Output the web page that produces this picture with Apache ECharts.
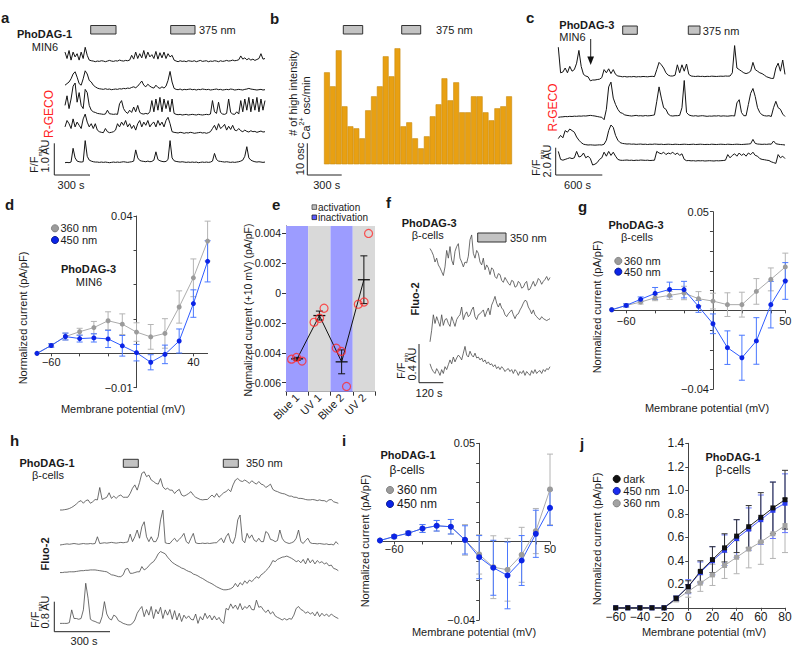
<!DOCTYPE html>
<html><head><meta charset="utf-8">
<script src="https://cdn.jsdelivr.net/npm/echarts@6/dist/echarts.min.js"></script>
<style>html,body{margin:0;padding:0;background:#fff}#c{width:800px;height:653px}</style>
</head><body><div id="c"></div>
<script>
// ---------------- DATA ----------------
// panel a: R-GECO traces (F/Fmin, AU above baseline), PhoDAG-1 MIN6
const a1 = [0.30,0.10,0.35,0.05,0.30,0.15,0.25,0.05,0.30,0.10,0.45,0.20,0.05,0.03,0.02,0.00,0.02,0.01,0.03,0.02,0.00,0.02,0.04,0.02,0.01,0.03,0.02,0.05,0.03,0.02,0.04,0.03,0.05,0.20,0.08,0.30,0.10,0.25,0.12,0.35,0.10,0.30,0.15,0.22,0.10,0.32,0.08,0.28,0.12,0.30,0.10,0.25,0.15,0.20,0.05,0.02,0.00,0.03,0.01,0.02,0.00,0.03,0.02,0.01,0.03,0.00,0.02,0.04,0.01,0.02,0.03,0.00,0.02,0.01,0.03,0.02,0.00,0.03,0.01,0.02,0.04,0.02,0.03,0.05,0.03,0.04,0.06,0.18,0.08,0.12,0.06,0.10,0.05,0.08,0.04,0.07,0.10,0.25,0.08,0.10];
const a2 = [0.15,0.20,0.25,0.35,0.50,0.57,0.40,0.20,0.15,0.35,0.60,0.50,0.30,0.25,0.15,0.10,0.06,0.04,0.03,0.02,0.04,0.02,0.03,0.01,0.02,0.03,0.02,0.04,0.03,0.05,0.04,0.06,0.05,0.08,0.10,0.07,0.12,0.20,0.28,0.15,0.10,0.18,0.12,0.08,0.06,0.15,0.08,0.05,0.10,0.06,0.12,0.30,0.58,0.25,0.05,0.02,0.01,0.03,0.00,0.02,0.01,0.02,0.03,0.01,0.02,0.00,0.02,0.01,0.03,0.02,0.01,0.02,0.00,0.01,0.02,0.03,0.01,0.02,0.00,0.01,0.02,0.01,0.03,0.02,0.00,0.01,0.02,0.01,0.00,0.02,0.03,0.05,0.03,0.02,0.01,0.00,0.01,0.02,0.00,0.01];
const a3 = [0.3,0.6,0.2,0.5,0.9,1.0,0.4,0.7,0.3,0.2,0.8,0.7,0.3,0.15,0.1,0.08,0.05,0.04,0.03,0.02,0.03,0.15,0.04,0.03,0.02,0.03,0.02,0.35,0.45,0.2,0.1,0.05,0.15,0.08,0.25,0.1,0.3,0.08,0.04,0.03,0.05,0.03,0.1,0.45,0.1,0.5,0.15,0.55,0.1,0.5,0.2,0.45,0.1,0.5,0.05,0.02,0.01,0.02,0.00,0.01,0.02,0.00,0.01,0.02,0.01,0.00,0.02,0.01,0.00,0.01,0.02,0.01,0.03,0.45,0.1,0.05,0.4,0.08,0.03,0.02,0.05,0.5,0.08,0.03,0.02,0.1,0.03,0.45,0.1,0.5,0.15,0.55,0.1,0.5,0.15,0.55,0.1,0.5,0.15,0.45];
const a4 = [0.2,0.4,0.3,0.15,0.45,0.2,0.35,0.25,0.15,0.45,0.6,0.35,0.2,0.3,0.15,0.3,0.1,0.05,0.03,0.02,0.15,0.05,0.02,0.03,0.05,0.1,0.3,0.2,0.35,0.25,0.4,0.2,0.3,0.15,0.25,0.1,0.3,0.4,0.2,0.35,0.25,0.4,0.2,0.3,0.35,0.2,0.4,0.25,0.35,0.2,0.4,0.5,0.3,0.05,0.03,0.02,0.01,0.03,0.02,0.0,0.02,0.01,0.03,0.02,0.0,0.01,0.02,0.03,0.01,0.02,0.0,0.02,0.05,0.15,0.25,0.1,0.3,0.15,0.2,0.28,0.1,0.22,0.12,0.25,0.1,0.08,0.15,0.08,0.05,0.1,0.06,0.04,0.08,0.05,0.06,0.03,0.05,0.07,0.04,0.05];
const a5 = [0.0,0.01,0.0,0.02,0.45,0.15,0.05,0.03,0.02,0.03,0.69,0.2,0.08,0.05,0.03,0.02,0.02,0.01,0.02,0.01,0.02,0.01,0.0,0.01,0.02,0.01,0.02,0.01,0.02,0.03,0.02,0.01,0.02,0.03,0.05,0.4,0.15,0.07,0.05,0.04,0.03,0.05,0.03,0.04,0.08,0.34,0.1,0.06,0.04,0.03,0.04,0.1,0.69,0.15,0.06,0.04,0.03,0.02,0.03,0.02,0.01,0.02,0.01,0.02,0.01,0.02,0.0,0.01,0.02,0.01,0.02,0.01,0.02,0.05,0.29,0.1,0.05,0.04,0.03,0.02,0.03,0.02,0.01,0.02,0.01,0.02,0.03,0.05,0.08,0.2,0.5,0.15,0.08,0.05,0.03,0.02,0.03,0.02,0.01,0.02];

// panel b: # of high intensity Ca2+ osc/min per bin
const bOsc = [46,39,57,29,19,18,13,27,34,39,54,44,58,19,21,13,8,14,24,30,43,32,41,26,26,34,34,26,22,28,29,34];

// panel c: R-GECO traces, PhoDAG-3 MIN6
const c1 = [1.8,0.2,0.25,0.5,0.2,0.6,0.3,0.4,0.8,1.6,0.6,0.1,0.0,-0.05,-0.3,-0.25,-0.25,-0.22,-0.2,-0.1,0.4,0.2,0.45,0.15,0.4,0.1,0.0,-0.02,-0.05,-0.03,-0.06,-0.04,-0.05,-0.03,-0.06,-0.04,-0.05,-0.03,-0.04,-0.05,-0.03,-0.02,-0.04,0.4,0.85,0.7,0.5,0.2,0.05,0.0,0.0,0.05,0.7,0.2,0.7,0.3,0.75,0.1,0.0,-0.02,-0.03,-0.01,-0.03,-0.02,-0.04,-0.02,-0.03,-0.01,-0.02,-0.03,-0.02,-0.01,-0.02,0.0,-0.01,0.0,0.2,1.9,0.5,0.4,0.3,0.2,0.15,0.2,0.3,0.85,0.4,0.3,0.2,0.15,0.05,-0.05,-0.1,-0.15,-0.15,0.5,0.8,0.3,1.0,0.1];
const c2 = [0.0,0.02,0.03,0.05,0.04,0.06,0.05,0.07,0.06,0.08,0.07,0.09,0.08,0.1,0.12,0.1,0.08,0.05,0.02,0.0,-0.15,0.5,1.9,2.2,1.2,0.8,0.5,0.3,0.25,0.15,0.12,0.1,0.08,0.1,0.12,0.09,0.1,0.08,0.11,0.09,0.1,0.12,0.15,1.0,1.9,1.2,0.6,0.5,0.2,0.1,0.08,0.1,0.1,0.12,0.6,2.3,0.3,0.15,0.1,0.08,0.1,0.07,0.09,0.1,0.08,0.06,0.08,0.07,0.09,0.08,0.1,0.07,0.09,0.08,0.07,0.09,0.1,0.08,0.9,1.1,0.3,0.1,0.1,0.8,1.5,1.8,1.3,0.6,0.3,0.15,0.1,0.08,0.1,0.05,0.6,1.0,0.6,0.5,0.2,0.05];
const c3 = [0.4,0.6,0.45,0.9,0.8,1.0,0.9,0.8,0.5,0.3,0.15,0.05,0.02,0.0,0.01,0.0,-0.01,0.0,0.01,0.0,0.05,0.3,0.9,1.25,1.1,0.6,0.3,0.15,0.1,0.08,0.06,0.07,0.05,0.06,0.04,0.05,0.06,0.04,0.05,0.03,0.05,0.04,0.06,0.05,0.04,0.05,0.03,0.04,0.05,0.04,0.03,0.05,0.04,0.03,0.04,0.05,0.04,0.03,0.04,0.05,0.03,0.04,0.05,0.04,0.03,0.04,0.03,0.05,0.04,0.03,0.04,0.05,0.04,0.03,0.05,0.04,0.03,0.04,0.05,0.04,0.03,0.04,0.05,0.06,0.08,0.35,0.1,0.06,0.05,0.04,0.05,0.04,0.06,0.05,0.25,0.08,0.05,0.03,0.02,0.0];
const c4 = [0.6,0.1,0.05,0.1,0.15,0.2,0.15,0.2,0.6,0.25,0.3,0.5,0.2,0.3,0.15,-0.25,-0.2,-0.1,0.1,0.2,0.55,0.3,0.6,0.35,0.55,0.3,0.1,0.05,0.04,0.05,0.06,0.04,0.05,0.03,0.05,0.04,0.06,0.05,0.04,0.05,0.03,0.04,0.05,0.6,0.5,0.45,0.55,0.4,0.5,0.45,0.55,0.4,0.5,0.35,0.45,0.1,0.02,0.03,0.01,0.02,0.0,0.02,0.01,0.02,0.0,0.01,0.02,0.01,0.0,0.02,0.01,0.02,0.03,0.05,0.4,0.2,0.35,0.45,0.3,0.5,0.35,0.45,0.3,0.5,0.4,0.55,0.35,0.3,0.15,0.1,0.08,0.05,0.03,-0.05,-0.1,-0.15,0.4,0.2,0.3,0.15];

// panel d: IV, PhoDAG-3 MIN6
const ivV = [-70,-60,-50,-40,-30,-20,-10,0,10,20,30,40,50];
const dGray = [0,0.0023,0.0049,0.0063,0.0075,0.0095,0.0085,0.0062,0.0048,0.0058,0.0135,0.0220,0.0327];
const dGrayErr = [0,0.0005,0.001,0.001,0.0018,0.0026,0.003,0.0027,0.0036,0.0043,0.0047,0.0055,0.0058];
const dBlue = [0,0.0023,0.0049,0.0043,0.0045,0.0042,0.0022,0.0002,-0.0026,-0.0003,0.0036,0.0145,0.0268];
const dBlueErr = [0,0.0005,0.001,0.001,0.0012,0.0025,0.003,0.0024,0.0022,0.0027,0.0035,0.004,0.006];

// panel e: current at +10 mV
const eCats = ['Blue 1','UV 1','Blue 2','UV 2'];
const eYTicks = [-0.006,-0.004,-0.002,0,0.002,0.004];
const eMeans = [-0.0044,-0.0015,-0.0046,0.0009];
const eErr = [0.0001,0.0003,0.0008,0.0016];
const eCells = [[-0.00442,-0.0043,-0.00455],[-0.00195,-0.00168,-0.00101],[-0.00368,-0.0039,-0.00625],[-0.00074,-0.00059,0.0040]];
const eJitter = [[-0.25,-0.03,0.22],[-0.24,0.01,0.21],[-0.24,-0.01,0.22],[-0.25,0.01,0.21]];

// panel f: Fluo-2 traces, PhoDAG-3 beta-cells
const f1 = [0.36,0.33,0.29,0.22,0.26,0.19,0.16,0.12,0.08,0.17,0.34,0.26,0.38,0.24,0.19,0.33,0.38,0.41,0.26,0.22,0.17,0.22,0.21,0.28,0.45,0.50,0.31,0.26,0.34,0.31,0.22,0.19,0.26,0.14,0.19,0.16,0.09,0.16,0.14,0.07,0.05,0.10,0.09,0.03,0.01,0.06,0.03,0.0,-0.02,0.03,0.02,-0.04,-0.03,0.02,0.0,-0.05,-0.04,0.0,0.02,-0.07,-0.06,-0.02,0.02,-0.03,0.0,0.05,0.03,-0.01,0.02,0.04,0.07,0.03,0.06];
const f2 = [-0.26,-0.14,0.02,-0.07,0,-0.05,-0.10,0.02,-0.09,-0.03,-0.02,-0.07,-0.10,0,-0.05,-0.10,-0.03,0,0.02,0.10,-0.03,0.02,0.05,0,0.02,0.07,0.10,0,-0.03,0.02,0.03,0.05,0.07,0,0.05,0.09,0.02,0.12,0.16,0.21,0.14,0.10,0.14,0.09,0.07,0.02,0,0.03,0.05,0.07,0.02,-0.02,0.02,0.03,0.07,0.10,0.14,0.17,0.16,0.10,0.07,0.03,0.07,0.02,0,-0.02,-0.03,0,-0.02,-0.03,-0.04,-0.03,-0.02];
const f3 = [0.03,-0.02,-0.05,-0.07,-0.02,-0.05,-0.09,-0.03,-0.07,0,-0.03,0.02,0.07,0.03,0.10,0.05,0.09,0.12,0.10,0.07,0.14,0.21,0.12,0.10,0.16,0.12,0.10,0.14,0.09,0.10,0.07,0.09,0.05,0.07,0.03,0.05,0.02,0.03,0,0.02,-0.02,0,-0.03,0,-0.02,-0.05,-0.03,-0.02,-0.05,-0.03,-0.07,-0.03,-0.05,-0.09,-0.05,-0.07,-0.04,-0.09,-0.05,-0.07,-0.09,-0.04,-0.07,-0.03,-0.07,-0.05,-0.04,-0.07,-0.03,-0.05,-0.02,-0.03,0];

// panel g: IV, PhoDAG-3 beta-cells
const gGray = [0.0003,0.0025,0.0042,0.0064,0.0076,0.0088,0.0059,0.0047,0.0029,0.0029,0.0096,0.0157,0.0220];
const gGrayErr = [0,0.0008,0.001,0.0015,0.002,0.0034,0.0036,0.004,0.006,0.0063,0.0065,0.0058,0.007];
const gBlue = [0.0003,0.0025,0.0056,0.0086,0.0106,0.0105,0.0020,-0.0068,-0.0189,-0.0240,-0.0155,0.0029,0.0149];
const gBlueErr = [0,0.0008,0.0012,0.003,0.0037,0.0042,0.003,0.005,0.0085,0.0114,0.0118,0.0118,0.0093];

// panel h: Fluo-2 traces, PhoDAG-1 beta-cells
const h1 = [0,0,0.01,0.02,0.04,0.07,0.11,0.16,0.22,0.25,0.18,0.25,0.27,0.18,0.22,0.28,0.27,0.60,0.28,0.31,0.34,0.46,0.31,0.37,0.31,0.37,0.40,0.34,0.34,0.34,0.44,0.58,0.67,0.53,0.73,0.98,1.02,0.89,0.93,0.80,0.76,0.71,0.69,0.84,0.62,0.55,0.58,0.53,0.53,0.44,0.51,0.55,0.40,0.37,0.40,0.44,0.49,0.40,0.34,0.31,0.28,0.27,0.28,0.28,0.34,0.40,0.34,0.44,0.34,0.40,0.46,0.49,0.55,0.49,0.67,0.80,0.84,0.78,0.76,0.80,0.76,0.71,0.78,0.73,0.69,0.76,0.69,0.67,0.60,0.64,0.69,0.55,0.51,0.49,0.46,0.44,0.43,0.40,0.37,0.37,0.34,0.34,0.31,0.31,0.30,0.28,0.27,0.27,0.28,0.27,0.25,0.27,0.25,0.25,0.22,0.27,0.28,0.22,0.20,0.18];
const h2 = [0,0.01,0.02,0.03,0.02,0.03,0.04,0.03,0.02,0.03,0.04,0.03,0.03,0.04,0.03,0.04,0.22,0.04,0.05,0.06,0.05,0.06,0.07,0.06,0.05,0.06,0.07,0.06,0.07,0.08,0.29,0.09,0.22,0.40,0.18,0.49,0.62,0.22,0.09,0.22,0.09,0.09,0.22,0.67,0.93,0.06,0.04,0.04,0.12,0.18,0.09,0.15,0.22,0.31,0.09,0.04,0.18,0.31,0.06,0.04,0.04,0.05,0.04,0.05,0.04,0.05,0.06,0.06,0.13,0.18,0.06,0.22,0.31,0.09,0.04,0.22,0.67,0.80,0.13,0.06,0.31,0.18,0.27,0.13,0.09,0.18,0.09,0.09,0.36,0.31,0.15,0.13,0.09,0.12,0.40,0.18,0.09,0.06,0.04,0.06,0.09,0.18,0.40,0.09,0.04,0.12,0.18,0.06,0.04,0.04,0.03,0.04,0.03,0.02,0.03,0.01,0.02,0,0.09,0.02];
const h3 = [0.02,0.02,0.03,0.03,0.04,0.04,0.04,0.05,0.06,0.07,0.07,0.08,0.08,0.09,0.09,0.09,0.08,0.07,0.06,0.05,0.04,0,-0.04,-0.05,-0.07,-0.09,-0.09,-0.04,0.11,0.13,0,0,0.02,0.04,0.04,0.18,0.09,0.13,0.20,0.27,0.31,0.40,0.52,0.58,0.55,0.52,0.43,0.36,0.29,0.25,0.21,0.18,0.14,0.12,0.08,0.05,0.03,-0.02,-0.04,-0.07,-0.11,-0.14,-0.18,-0.22,-0.25,-0.28,-0.32,-0.36,-0.39,-0.42,-0.44,-0.44,-0.43,-0.41,-0.37,-0.27,-0.36,-0.25,-0.31,-0.20,-0.27,-0.18,-0.22,-0.16,-0.09,-0.13,-0.04,0,0.07,0.13,0.22,0.34,0.31,0.37,0.40,0.43,0.44,0.46,0.43,0.40,0.36,0.31,0.34,0.28,0.37,0.25,0.40,0.28,0.36,0.25,0.34,0.28,0.31,0.25,0.28,0.20,0.22,0.13,0.11,0.07];
const h4 = [-0.09,-0.09,-0.09,-0.09,-0.07,0.27,0.04,0.04,0.02,0.04,0.27,0.98,0.58,0.02,-0.02,-0.04,-0.07,-0.09,0.09,0.49,0.16,0.04,0,0.13,0.09,-0.02,-0.05,-0.09,-0.11,-0.13,-0.13,-0.09,0,0.18,0.28,0.36,0.09,0.28,0.13,0.36,0.04,0.28,0.16,0.34,0.04,0.27,0.13,0.28,0.02,0.25,0,0.18,-0.04,0.13,0.04,0.11,0.02,0,0.16,-0.09,0.09,0,0.18,0.04,0.13,0,0.11,0,0.07,-0.04,-0.09,0.31,0.27,0.43,0.31,0.40,0.28,0.44,0.27,0.36,0.31,0.40,0.28,0.27,0.53,0.34,0.36,0.27,0.20,0.27,0.16,0.22,0.11,0.07,0.04,0,0.04,0,0.04,0.02,0.13,0.31,0.36,0.28,0.25,0.18,0.22,0.16,0.20,0.11,0.22,0.09,0.18,0.11,0.16,0.09,0.16,0.11,0.07,0.04];

// panel i: IV, PhoDAG-1 beta-cells
const iGray = [0.0005,0.0025,0.0042,0.0066,0.0080,0.0075,0.0008,-0.0066,-0.0131,-0.0144,-0.0068,0.0053,0.0265];
const iGrayErr = [0,0.0008,0.001,0.002,0.0027,0.0037,0.0078,0.010,0.016,0.016,0.014,0.0115,0.018];
const iBlue = [0.0005,0.0025,0.0042,0.0066,0.0080,0.0075,0.0008,-0.0080,-0.0134,-0.0173,-0.0097,0.0039,0.0171];
const iBlueErr = [0,0.0008,0.001,0.002,0.0027,0.0037,0.0072,0.011,0.014,0.017,0.0127,0.012,0.009];

// panel j: IV, PhoDAG-1 beta-cells
const jV = [-60,-50,-40,-30,-20,-10,0,10,20,30,40,50,60,70,80];
const jDark = [0,0,0,0,0,0.08,0.18,0.31,0.41,0.51,0.61,0.69,0.77,0.85,0.92];
const jDarkErr = [0,0,0,0,0,0.02,0.05,0.09,0.11,0.12,0.14,0.18,0.21,0.22,0.25];
const jBlue = [0,0,0,0,0,0.08,0.18,0.30,0.40,0.49,0.59,0.67,0.75,0.83,0.89];
const jBlueErr = [0,0,0,0,0,0.02,0.06,0.09,0.12,0.13,0.16,0.18,0.21,0.24,0.25];
const jGray = [0,0,0,0,0,0.07,0.14,0.21,0.28,0.36,0.43,0.50,0.56,0.63,0.70];
const jGrayErr = [0,0,0,0,0,0.02,0.05,0.07,0.09,0.11,0.14,0.16,0.19,0.21,0.23];

// ---------------- BUILD ----------------
const FONT = "'Liberation Sans', Arial, Helvetica, sans-serif";
const TXT = '#1a1a1a';
const grid = [], xAxis = [], yAxis = [], series = [], graphic = [];

function addGrid(box, xa, ya) {
  const gi = grid.length;
  grid.push(Object.assign({containLabel: false, outerBoundsMode: 'none'}, box));
  xAxis.push(Object.assign({gridIndex: gi}, xa));
  yAxis.push(Object.assign({gridIndex: gi}, ya));
  return gi;
}
function addTrace(vals, left, width, base, ppu, ymin, ymax, color, lw) {
  const gi = addGrid({left: left, width: width, top: base - ymax * ppu, height: (ymax - ymin) * ppu},
    {type: 'category', show: false, boundaryGap: false, data: vals.map((v, i) => i)},
    {type: 'value', show: false, min: ymin, max: ymax});
  series.push({type: 'line', xAxisIndex: gi, yAxisIndex: gi, data: vals, symbol: 'none', silent: true,
    lineStyle: {color: color, width: lw}});
}
const fmtNum = v => (v < 0 ? '\u2212' : '') + String(Math.abs(v));

function errSeries(gi, xs, m, e, color, cap) {
  const d = [];
  xs.forEach((x, i) => { if (e[i] > 0) d.push([x, m[i] - e[i], m[i] + e[i]]); });
  series.push({type: 'custom', xAxisIndex: gi, yAxisIndex: gi, data: d, silent: true, z: 2,
    encode: {x: 0, y: [1, 2]},
    renderItem: function (p, api) {
      const x = api.value(0), a = api.coord([x, api.value(2)]), b = api.coord([x, api.value(1)]);
      const st = {stroke: color, lineWidth: 1};
      return {type: 'group', children: [
        {type: 'line', shape: {x1: a[0], y1: a[1], x2: b[0], y2: b[1]}, style: st},
        {type: 'line', shape: {x1: a[0] - cap, y1: a[1], x2: a[0] + cap, y2: a[1]}, style: st},
        {type: 'line', shape: {x1: b[0] - cap, y1: b[1], x2: b[0] + cap, y2: b[1]}, style: st}]};
    }});
}
// IV panel: axes cross at (0,0); the crossing is placed through the axis offsets derived from the scales
function addIV(o) {
  const fs = o.fs || 11;
  const xOff = -((0 - o.ymin) / (o.ymax - o.ymin)) * o.height;
  const yOff = -((0 - o.xmin) / (o.xmax - o.xmin)) * o.width;
  const gi = addGrid({left: o.left, top: o.top, width: o.width, height: o.height},
    {type: 'value', min: o.xmin, max: o.xmax, position: 'bottom', offset: xOff, splitLine: {show: false},
      axisLine: {onZero: false, lineStyle: {color: '#444', width: 1}},
      axisTick: {customValues: o.xTicks, length: 3, lineStyle: {color: '#444'}},
      axisLabel: {customValues: o.xLabels, formatter: fmtNum, fontSize: fs, color: TXT, fontFamily: FONT, margin: o.xm}},
    {type: 'value', min: o.ymin, max: o.ymax, position: 'left', offset: yOff, splitLine: {show: false},
      axisLine: {onZero: false, lineStyle: {color: '#444', width: 1}},
      axisTick: {customValues: o.yTicks, length: 3, lineStyle: {color: '#444'}},
      axisLabel: {customValues: o.yLabels, formatter: o.yfmt || fmtNum, fontSize: fs, color: TXT, fontFamily: FONT, margin: 4, align: 'right'}});
  o.sets.forEach(s => {
    errSeries(gi, o.xs, s.m, s.e, s.err, 3);
    series.push({type: 'line', name: s.name, xAxisIndex: gi, yAxisIndex: gi, z: 3, silent: true,
      data: o.xs.map((x, i) => [x, s.m[i]]), symbol: s.sym || 'circle', symbolSize: s.size || 5,
      itemStyle: {color: s.pt}, lineStyle: {color: s.line, width: 1}});
  });
}

// graphic helpers
function T(x, y, text, o) {
  o = o || {};
  const st = {text: text, fill: o.color || TXT, font: (o.bold ? 'bold ' : '') + (o.size || 11) + 'px ' + FONT,
    align: o.align || 'center', verticalAlign: 'middle'};
  if (o.rich) st.rich = o.rich;
  graphic.push({type: 'text', x: x, y: y, rotation: o.rot ? Math.PI / 2 : 0, silent: true, z: 100, style: st});
}
function L(x1, y1, x2, y2, c, w) {
  graphic.push({type: 'line', silent: true, z: 100, shape: {x1: x1, y1: y1, x2: x2, y2: y2}, style: {stroke: c || '#222', lineWidth: w || 1}});
}
function R(x, y, w, h) {
  graphic.push({type: 'rect', silent: true, z: 100, shape: {x: x, y: y, width: w, height: h}, style: {fill: '#c3c3c3', stroke: '#333', lineWidth: 1}});
}
function Dot(cx, cy, fill, stroke) {
  graphic.push({type: 'circle', silent: true, z: 100, shape: {cx: cx, cy: cy, r: 3.6}, style: {fill: fill, stroke: stroke, lineWidth: 0.8}});
}
function FF(x, y, size) {
  T(x, y, '{a|F/F}{b|min}', {rot: true, rich: {
    a: {fontSize: size, fontFamily: FONT, fill: TXT, verticalAlign: 'top', lineHeight: size + 3},
    b: {fontSize: 6, fontFamily: FONT, fill: TXT, verticalAlign: 'bottom', lineHeight: size + 3}}});
}

// ---- panel a ----
const aBases = [61.7, 90, 115, 133.3, 162.7];
[a1, a2, a3, a4, a5].forEach((v, k) => addTrace(v, 65, 200, aBases[k], 32, -0.1, 1.1, '#141414', 1));
T(1, 17, 'a', {bold: true, size: 15, align: 'left'});
T(44.5, 34, 'PhoDAG-1', {bold: true});
T(45, 47, 'MIN6');
R(90.7, 25.5, 25.3, 8.5); R(170.7, 25.5, 24.3, 8.5);
T(199, 30, '375 nm', {align: 'left'});
T(48.5, 114, 'R-GECO', {rot: true, color: '#ff2222', size: 12});
L(54.3, 143.3, 54.3, 175); L(54.3, 175, 90, 175);
T(45, 156, '1.0 AU', {rot: true});
FF(35.5, 160, 11);
T(71, 185, '300 s');

// ---- panel b ----
const bgi = addGrid({left: 324, width: 188, top: 44.3, height: 120},
  {type: 'category', show: false, data: bOsc.map((v, i) => i)},
  {type: 'value', show: false, min: 0, max: 60});
series.push({type: 'bar', xAxisIndex: bgi, yAxisIndex: bgi, data: bOsc, barCategoryGap: '0%', silent: true,
  itemStyle: {color: '#e8a012', borderColor: '#c78a0e', borderWidth: 0.6}});
T(270, 18, 'b', {bold: true, size: 15, align: 'left'});
R(343.3, 25.5, 19.4, 8.5); R(401.7, 25.5, 19, 8.5);
T(436, 30, '375 nm', {align: 'left'});
T(293, 93, '# of high intensity', {rot: true});
T(304.5, 108, '{n|Ca}{s|2+}{n| osc/min}', {rot: true, rich: {
  n: {fontSize: 11, fontFamily: FONT, fill: TXT, verticalAlign: 'bottom', lineHeight: 13},
  s: {fontSize: 7, fontFamily: FONT, fill: TXT, verticalAlign: 'top', lineHeight: 13}}});
L(307.3, 143.3, 307.3, 175); L(307.3, 175, 341.7, 175);
T(300, 159, '10 osc', {rot: true});
T(326.7, 184.5, '300 s');

// ---- panel c ----
const cBases = [76, 117.3, 145, 161];
[c1, c2, c3, c4].forEach((v, k) => addTrace(v, 558.3, 226.7, cBases[k], 16, -0.5, 2.5, '#141414', 1));
T(526, 17, 'c', {bold: true, size: 15, align: 'left'});
T(559.3, 25, 'PhoDAG-3', {bold: true, align: 'left'});
T(559.3, 37, 'MIN6', {align: 'left'});
L(590.7, 39, 590.7, 57);
graphic.push({type: 'polygon', silent: true, z: 100, shape: {points: [[587.3, 56.5], [594, 56.5], [590.7, 65]]}, style: {fill: '#111'}});
R(622.7, 26, 14.6, 8.3); R(688.3, 26, 11.7, 8.3);
T(702.7, 30.5, '375 nm', {align: 'left'});
T(553.3, 107.5, 'R-GECO', {rot: true, color: '#ff2222', size: 12});
L(555.7, 147.7, 555.7, 175); L(555.7, 175, 602.3, 175);
T(546.5, 161, '2.0 AU', {rot: true});
FF(537.5, 163, 11);
T(577.5, 184.5, '600 s');

// ---- panel d ----
const GRAY_PT = '#9b9b9b', GRAY_LN = '#ababab', GRAY_ER = '#b4b4b4';
const BLUE_PT = '#0b24e6', BLUE_LN = '#2f5cff', BLUE_ER = '#4a78ff';
addIV({left: 37, top: 216, width: 170.6, height: 171.7, xmin: -70, xmax: 50, ymin: -0.01, ymax: 0.04, xs: ivV, xm: 3,
  xTicks: [-60, -40, -20, 20, 40], xLabels: [-60, 40],
  yTicks: [-0.01, 0.01, 0.02, 0.03, 0.04], yLabels: [0.04, -0.01],
  sets: [{name: '360 nm', m: dGray, e: dGrayErr, pt: GRAY_PT, line: GRAY_LN, err: GRAY_ER},
         {name: '450 nm', m: dBlue, e: dBlueErr, pt: BLUE_PT, line: BLUE_LN, err: BLUE_ER}]});
T(5, 204, 'd', {bold: true, size: 15, align: 'left'});
Dot(55, 228.3, GRAY_PT, '#777'); T(60.5, 228.3, '360 nm', {align: 'left'});
Dot(55, 240, BLUE_PT, '#001080'); T(60.5, 240, '450 nm', {align: 'left'});
T(88.5, 268.5, 'PhoDAG-3', {bold: true});
T(89, 281.5, 'MIN6');
T(23, 318, 'Normalized current (pA/pF)', {rot: true});
T(123, 409, 'Membrane potential (mV)');

// ---- panel e ----
const egi = addGrid({left: 286, top: 226, width: 89, height: 165.7},
  {type: 'value', min: -0.5, max: 3.5, position: 'bottom', splitLine: {show: false},
    axisLine: {onZero: false, lineStyle: {color: '#333'}},
    axisTick: {customValues: [-0.5, 0.5, 1.5, 2.5, 3.5], length: 4, lineStyle: {color: '#333'}},
    axisLabel: {customValues: [0, 1, 2, 3], formatter: v => eCats[Math.round(v)], rotate: 45, margin: 4,
      fontSize: 11, color: TXT, fontFamily: FONT}},
  {type: 'value', min: -0.0066, max: 0.0045, position: 'left', splitLine: {show: false},
    axisLine: {onZero: false, lineStyle: {color: '#333'}},
    axisTick: {customValues: eYTicks, length: 4, lineStyle: {color: '#333'}},
    axisLabel: {show: false}});
const BAND_BLUE = '#9c9cff', BAND_GRAY = '#d9d9d9';
series.push({type: 'line', xAxisIndex: egi, yAxisIndex: egi, data: [], z: 1, silent: true,
  markArea: {silent: true, data: eCats.map((c, k) => [{xAxis: k - 0.5, itemStyle: {color: k % 2 === 0 ? BAND_BLUE : BAND_GRAY}}, {xAxis: k + 0.5}])}});
series.push({type: 'line', xAxisIndex: egi, yAxisIndex: egi, z: 3, silent: true, symbol: 'none',
  data: eMeans.map((m, k) => [k, m]), lineStyle: {color: '#111', width: 1}});
series.push({type: 'custom', xAxisIndex: egi, yAxisIndex: egi, z: 4, silent: true,
  data: eMeans.map((m, k) => [k, m, eErr[k]]), encode: {x: 0, y: 1},
  renderItem: function (p, api) {
    const x = api.value(0), m = api.value(1), e = api.value(2);
    const c = api.coord([x, m]), t = api.coord([x, m + e]), b = api.coord([x, m - e]);
    const st = {stroke: '#111', lineWidth: 1};
    return {type: 'group', children: [
      {type: 'line', shape: {x1: c[0] - 6, y1: c[1], x2: c[0] + 6, y2: c[1]}, style: {stroke: '#111', lineWidth: 1.3}},
      {type: 'line', shape: {x1: t[0], y1: t[1], x2: b[0], y2: b[1]}, style: st},
      {type: 'line', shape: {x1: t[0] - 3.5, y1: t[1], x2: t[0] + 3.5, y2: t[1]}, style: st},
      {type: 'line', shape: {x1: b[0] - 3.5, y1: b[1], x2: b[0] + 3.5, y2: b[1]}, style: st}]};
  }});
const eDots = [];
eCells.forEach((arr, k) => arr.forEach((v, j) => eDots.push([k + eJitter[k][j], v])));
series.push({type: 'scatter', xAxisIndex: egi, yAxisIndex: egi, z: 5, silent: true, data: eDots,
  symbol: 'circle', symbolSize: 8, itemStyle: {color: 'rgba(0,0,0,0)', borderColor: '#ff2b2b', borderWidth: 1.2}});
T(272, 204, 'e', {bold: true, size: 15, align: 'left'});
graphic.push({type: 'rect', silent: true, z: 100, shape: {x: 312, y: 204.8, width: 4.6, height: 4.6}, style: {fill: '#bdbdbd', stroke: '#444', lineWidth: 0.8}});
graphic.push({type: 'rect', silent: true, z: 100, shape: {x: 312, y: 215, width: 4.6, height: 4.6}, style: {fill: '#5b5bff', stroke: '#222', lineWidth: 0.8}});
T(318, 207, 'activation', {align: 'left', size: 10});
T(318, 217.3, 'inactivation', {align: 'left', size: 10});
T(248, 310, 'Normalized current (+10 mV) (pA/pF)', {rot: true, size: 10.5});

// ---- panel f ----
const fBases = [283.3, 316.7, 366.7];
[f1, f2, f3].forEach((v, k) => addTrace(v, 430, 120, fBases[k], 96.7, -0.3, 0.55, '#4a4a4a', 0.8));
T(386, 202, 'f', {bold: true, size: 15, align: 'left'});
T(401.7, 223.3, 'PhoDAG-3', {bold: true, align: 'left'});
T(411.7, 234.5, '\u03b2-cells', {align: 'left'});
R(477.7, 233, 28.3, 9);
T(510, 238, '350 nm', {align: 'left'});
T(415, 299, 'Fluo-2', {rot: true, bold: true});
L(419, 344, 419, 382.7); L(419, 382.7, 443.3, 382.7);
T(412, 364, '0.4 AU', {rot: true});
FF(402, 366, 11);
T(429, 392.7, '120 s');

// ---- panel g ----
addIV({left: 611.7, top: 211.7, width: 173.6, height: 177.6, xmin: -70, xmax: 50, ymin: -0.04, ymax: 0.05, xs: ivV, xm: 5,
  xTicks: [-60, -40, -20, 20, 40, 50], xLabels: [-60, 50],
  yTicks: [-0.04, -0.03, -0.02, -0.01, 0.01, 0.02, 0.03, 0.04, 0.05], yLabels: [0.05, -0.04],
  sets: [{name: '360 nm', m: gGray, e: gGrayErr, pt: GRAY_PT, line: GRAY_LN, err: GRAY_ER},
         {name: '450 nm', m: gBlue, e: gBlueErr, pt: BLUE_PT, line: BLUE_LN, err: BLUE_ER}]});
T(578, 206, 'g', {bold: true, size: 15, align: 'left'});
T(636, 225, 'PhoDAG-3', {bold: true});
T(637, 237, '\u03b2-cells');
Dot(618.3, 261, GRAY_PT, '#777'); T(624, 261, '360 nm', {align: 'left'});
Dot(618.3, 271.7, BLUE_PT, '#001080'); T(624, 271.7, '450 nm', {align: 'left'});
T(597, 307, 'Normalized current (pA/pF)', {rot: true});
T(707, 408, 'Membrane potential (mV)');

// ---- panel h ----
const hBases = [510, 545, 573.3, 620];
[h1, h2, h3, h4].forEach((v, k) => addTrace(v, 60, 278.3, hBases[k], 37.5, -0.5, 1.1, '#4a4a4a', 0.8));
T(10, 440, 'h', {bold: true, size: 15, align: 'left'});
T(47, 463.3, 'PhoDAG-1', {bold: true});
T(48, 474.5, '\u03b2-cells');
R(123.3, 459.3, 15, 8); R(223.3, 459.3, 15, 8);
T(246, 463.3, '350 nm', {align: 'left'});
T(45, 554, 'Fluo-2', {rot: true, bold: true});
L(54.3, 601.7, 54.3, 631.7); L(54.3, 631.7, 110, 631.7);
T(45, 612, '0.8 AU', {rot: true});
FF(36, 615, 11);
T(84, 640.5, '300 s');

// ---- panel i ----
addIV({left: 380, top: 443.3, width: 170, height: 176.7, xmin: -70, xmax: 50, ymin: -0.04, ymax: 0.05, xs: ivV, xm: 2,
  xTicks: [-60, -40, -20, 20, 40, 50], xLabels: [-60, 50],
  yTicks: [-0.04, -0.03, -0.02, -0.01, 0.01, 0.02, 0.03, 0.04, 0.05], yLabels: [0.05, -0.04],
  sets: [{name: '360 nm', m: iGray, e: iGrayErr, pt: GRAY_PT, line: GRAY_LN, err: GRAY_ER, size: 6},
         {name: '450 nm', m: iBlue, e: iBlueErr, pt: BLUE_PT, line: BLUE_LN, err: BLUE_ER, size: 6}]});
T(342, 440, 'i', {bold: true, size: 15, align: 'left'});
T(408, 455, 'PhoDAG-1', {bold: true});
T(407, 470, '\u03b2-cells', {size: 12});
Dot(390, 490, GRAY_PT, '#777'); T(397, 490, '360 nm', {align: 'left', size: 12});
Dot(390, 504, BLUE_PT, '#001080'); T(397, 504, '450 nm', {align: 'left', size: 12});
T(365, 541, 'Normalized current (pA/pF)', {rot: true});
T(474, 631.7, 'Membrane potential (mV)');

// ---- panel j ----
addIV({left: 615.7, top: 443.3, width: 169.3, height: 164.5, xmin: -60, xmax: 80, ymin: 0, ymax: 1.4, xs: jV, xm: 3, fs: 12,
  xTicks: [-60, -40, -20, 0, 20, 40, 60, 80], xLabels: [-60, -40, -20, 0, 20, 40, 60, 80],
  yTicks: [0.2, 0.4, 0.6, 0.8, 1.0, 1.2, 1.4], yLabels: [0.2, 0.4, 0.6, 0.8, 1.0, 1.2, 1.4],
  yfmt: v => v.toFixed(1),
  sets: [{name: '360 nm', m: jGray, e: jGrayErr, pt: '#a3a3a3', line: '#a8a8a8', err: '#b4b4b4', sym: 'rect', size: 5},
         {name: '450 nm', m: jBlue, e: jBlueErr, pt: '#2a3cf0', line: '#4a5cff', err: '#6677ff', sym: 'rect', size: 5},
         {name: 'dark', m: jDark, e: jDarkErr, pt: '#111', line: '#222', err: '#333', sym: 'rect', size: 5}]});
T(580, 443, 'j', {bold: true, size: 15, align: 'left'});
T(733, 456.7, 'PhoDAG-1', {bold: true});
T(733, 470, '\u03b2-cells', {size: 12});
Dot(616.7, 479, '#111', '#000'); T(623.3, 479, 'dark', {align: 'left', size: 11});
Dot(616.7, 491, '#1a2cf0', '#001080'); T(623.3, 491, '450 nm', {align: 'left', size: 11});
Dot(616.7, 503.3, '#a3a3a3', '#777'); T(623.3, 503.3, '360 nm', {align: 'left', size: 11});
T(597, 539, 'Normalized current (pA/pF)', {rot: true});
T(704, 631.7, 'Membrane potential (mV)');

const chart = echarts.init(document.getElementById('c'), null, {renderer: 'svg'});
chart.setOption({
  animation: false,
  backgroundColor: '#fff',
  textStyle: {fontFamily: FONT},
  grid: grid, xAxis: xAxis, yAxis: yAxis, series: series
});
// panel e tick labels, positioned through the e grid's own scale
eYTicks.forEach(v => {
  const p = chart.convertToPixel({gridIndex: egi}, [-0.5, v]);
  const s = Math.abs(v) < 1e-9 ? '0' : (v < 0 ? '\u2212' : '') + Math.abs(v).toFixed(3);
  T(p[0] - 5, p[1], s, {align: 'right', size: 10.5});
});
chart.setOption({graphic: {elements: graphic}});
</script></body></html>
